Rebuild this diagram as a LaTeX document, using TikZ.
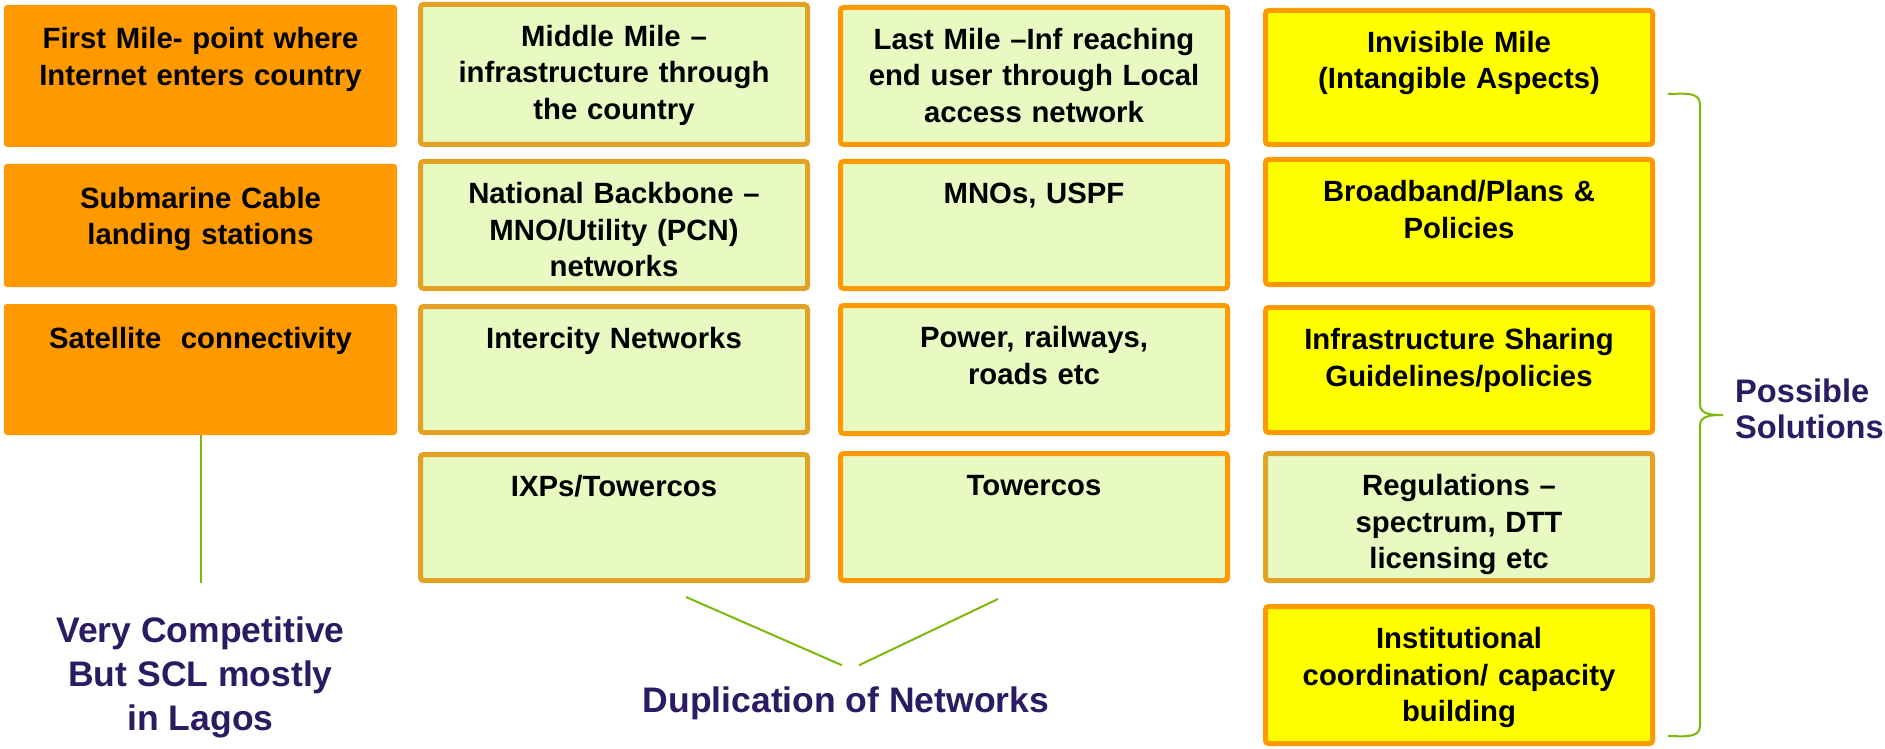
\documentclass[tikz,border=0pt]{standalone}
\usepackage{fontspec}
\setmainfont{Liberation Sans}
\usepackage{tikz}
\usetikzlibrary{positioning}
\definecolor{tileorange}{HTML}{FF9900}
\definecolor{tilegold}{HTML}{E2A226}
\definecolor{tilegreen}{HTML}{E8F9C1}
\definecolor{tileyellow}{HTML}{FFFF00}
\definecolor{linkgreen}{HTML}{7DB80A}
\definecolor{notepurple}{HTML}{2B1B63}

\begin{document}
\begin{tikzpicture}[x=1pt, y=1pt,
    tile/.style={rectangle, rounded corners=3pt, align=center, text width=371pt, inner xsep=8pt, inner ysep=20pt, text height=22pt, text depth=#1, line width=5pt, font=\bfseries\fontsize{29.3}{36.5}\selectfont},
    firstmile/.style={tile=#1, fill=tileorange, text width=377pt, inner ysep=22pt, outer sep=0pt},
    middlemile/.style={tile=#1, draw=tilegold, fill=tilegreen},
    lastmile/.style={tile=#1, draw=tileorange, fill=tilegreen},
    solution/.style={tile=#1, draw=tileorange, fill=tileyellow},
    link/.style={draw=linkgreen, line width=2pt},
    note/.style={text=notepurple, font=\bfseries\fontsize{35.5}{44}\selectfont, align=center, inner sep=0pt}]
    \useasboundingbox (0,0) rectangle (1885,-749);

    % First mile
    \node[firstmile=76pt, anchor=north west] (first) at (4,-5) {First Mile- point where\\Internet enters country};
    \node[firstmile=57pt, below=17pt of first] (cable) {Submarine Cable\\landing stations};
    \node[firstmile=65pt, below=17pt of cable] (sat) {Satellite~ connectivity};

    % Middle mile
    \node[middlemile=78pt, anchor=north west] (middle) at (418,-2) {Middle Mile \textendash\\infrastructure through\\the country};
    \node[middlemile=65pt, below=12pt of middle] (backbone) {National Backbone \textendash\\MNO/Utility (PCN)\\networks};
    \node[middlemile=64pt, below=13pt of backbone] (intercity) {Intercity Networks};
    \node[middlemile=64pt, below=17pt of intercity] (ixp) {IXPs/Towercos};

    % Last mile
    \node[lastmile=75pt, anchor=north west] (last) at (838,-5) {Last Mile \textendash Inf reaching\\end user through Local\\access network};
    \node[lastmile=65pt, below=12pt of last] (mno) {MNOs, USPF};
    \node[lastmile=66pt, below=12pt of mno] (power) {Power, railways,\\roads etc};
    \node[lastmile=65pt, below=15pt of power] (tower) {Towercos};

    % Invisible mile
    \node[solution=72pt, anchor=north west] (invisible) at (1263,-8) {Invisible Mile\\(Intangible Aspects)};
    \node[solution=63pt, below=10pt of invisible] (plans) {Broadband/Plans \&\\Policies};
    \node[solution=63pt, below=18pt of plans] (sharing) {Infrastructure Sharing\\Guidelines/policies};
    \node[middlemile=65pt, below=16pt of sharing] (regs) {Regulations \textendash\\spectrum, DTT\\licensing etc};
    \node[solution=75pt, below=21pt of regs] (inst) {Institutional\\coordination/ capacity\\building};

    % Notes
    \coordinate[below=148pt of sat] (satEnd);
    \draw[link] (sat) -- (satEnd);
    \node[note, below=34pt of satEnd] (competitive) {Very Competitive\\But SCL mostly\\in Lagos};

    \node[note] (dup) at (846,-703) {Duplication of Networks};
    \coordinate (dupL) at (686,-597);
    \coordinate (dupR) at (998,-599);
    \draw[link] (dupL) -- ([shift={(-4pt,21pt)}]dup.north);
    \draw[link] ([shift={(13pt,21pt)}]dup.north) -- (dupR);

    % Brace
    \coordinate (braceTop) at (1668,-94);
    \coordinate (braceTip) at (1723,-415);
    \coordinate (braceBot) at (1668,-736);
    \draw[link] (braceTop) to[out=0,in=90] (1700,-104) -- (1700,-405) to[out=-90,in=180] (braceTip)
        to[out=180,in=90] (1700,-425) -- (1700,-726) to[out=-90,in=0] (braceBot);
    \node[note, font=\bfseries\fontsize{32.6}{35.7}\selectfont, align=left, right=12pt of braceTip, yshift=6pt] (solutions) {Possible\\Solutions};
\end{tikzpicture}
\end{document}
